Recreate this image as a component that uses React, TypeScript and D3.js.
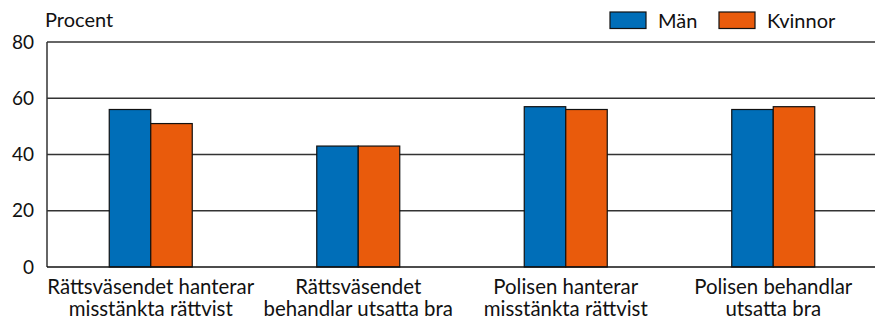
import React from "react";
import * as d3 from "d3";

const categories = [
  ["Rättsväsendet hanterar", "misstänkta rättvist"],
  ["Rättsväsendet", "behandlar utsatta bra"],
  ["Polisen hanterar", "misstänkta rättvist"],
  ["Polisen behandlar", "utsatta bra"],
];
const seriesNames = ["Män", "Kvinnor"];
const man = [56, 43, 57, 56];
const kvinnor = [51, 43, 56, 57];
const yTicks = [0, 20, 40, 60, 80];
const colors = ["#006eb8", "#e95b0c"];

export default function App() {
  const W = 875, H = 322;
  const left = 47, right = 877, top = 42, bottom = 267;
  const font = "Lato, 'Open Sans', sans-serif";
  const keys = categories.map((c) => c.join(" "));
  const x = d3.scaleBand<string>().domain(keys).range([left, right]);
  const y = d3.scaleLinear().domain([0, 80]).range([bottom, top]);
  const barW = x.bandwidth() * 0.2;
  const data = [man, kvinnor];
  return (
    <svg width={W} height={H} style={{ position: "absolute", left: 0, top: 0 }}>
      <rect width={W} height={H} fill="#fff" />
      {yTicks.map((t) => (
        <g key={t}>
          {t > 0 && (
            <line x1={left} x2={right} y1={y(t)} y2={y(t)} stroke="#333" strokeWidth={1.3} />
          )}
          <text x={34} y={y(t) + 6.5} textAnchor="end" fontFamily={font} fontSize={19} fill="#111">
            {t}
          </text>
        </g>
      ))}
      {keys.map((k, i) => {
        const cx = (x(k) as number) + x.bandwidth() / 2;
        return data.map((s, j) => (
          <rect
            key={k + j}
            x={cx - barW + j * barW}
            y={y(s[i])}
            width={barW}
            height={y(0) - y(s[i])}
            fill={colors[j]}
            stroke="#111"
            strokeWidth={1.2}
          />
        ));
      })}
      <line x1={left} x2={left} y1={top} y2={bottom} stroke="#333" strokeWidth={1.5} />
      <line x1={left} x2={right} y1={bottom} y2={bottom} stroke="#111" strokeWidth={1.5} />
      {keys.map((k, i) => {
        const cx = (x(k) as number) + x.bandwidth() / 2;
        return (
          <text key={k} x={cx} textAnchor="middle" fontFamily={font} fontSize={20.4} fill="#111">
            <tspan x={cx} y={294}>{categories[i][0]}</tspan>
            <tspan x={cx} y={316}>{categories[i][1]}</tspan>
          </text>
        );
      })}
      <text x={45} y={27} fontFamily={font} fontSize={20} fill="#111">Procent</text>
      {seriesNames.map((n, j) => {
        const lx = [610, 719][j];
        return (
          <g key={n}>
            <rect x={lx} y={12} width={36} height={16.5} fill={colors[j]} stroke="#111" strokeWidth={1.2} />
            <text x={lx + 48} y={27.5} fontFamily={font} fontSize={20} fill="#111">{n}</text>
          </g>
        );
      })}
    </svg>
  );
}
